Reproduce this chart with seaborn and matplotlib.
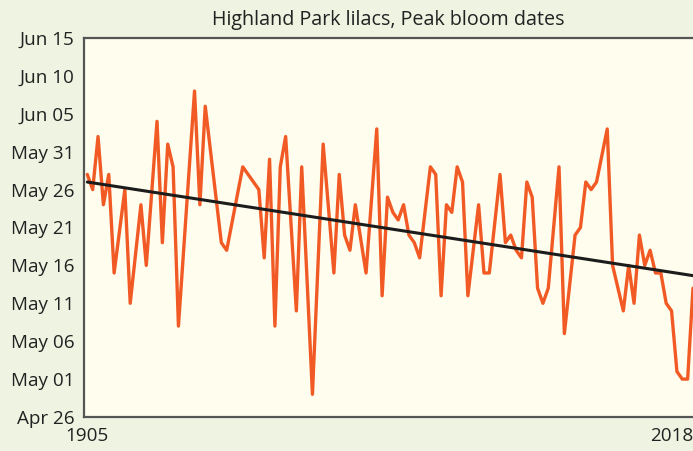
import pandas as pd
import matplotlib
matplotlib.use("Agg")
import matplotlib.pyplot as plt
import seaborn as sns

# Peak bloom dates of the Highland Park lilacs
years = [1905, 1906, 1907, 1908, 1909, 1910, 1912, 1913, 1915, 1916,
         1918, 1919, 1920, 1921, 1922, 1925, 1926, 1927, 1930, 1931,
         1934, 1937, 1938, 1939, 1940, 1941, 1942, 1944, 1945, 1947,
         1949, 1951, 1952, 1953, 1954, 1955, 1957, 1959, 1960, 1961,
         1962, 1963, 1964, 1965, 1966, 1967, 1969, 1970, 1971, 1972,
         1973, 1974, 1975, 1976, 1978, 1979, 1980, 1982, 1983, 1984,
         1985, 1986, 1987, 1988, 1989, 1990, 1991, 1993, 1994, 1996,
         1997, 1998, 1999, 2000, 2002, 2003, 2005, 2006, 2007, 2008,
         2009, 2010, 2011, 2012, 2013, 2014, 2015, 2016, 2017, 2018]
bloom_dates = ["May 28", "May 26", "Jun 02", "May 24", "May 28", "May 15", "May 26", "May 11", "May 24", "May 16",
               "Jun 04", "May 19", "Jun 01", "May 29", "May 08", "Jun 08", "May 24", "Jun 06", "May 19", "May 18",
               "May 29", "May 26", "May 17", "May 30", "May 08", "May 29", "Jun 02", "May 10", "May 29", "Apr 29",
               "Jun 01", "May 15", "May 28", "May 20", "May 18", "May 24", "May 15", "Jun 03", "May 12", "May 25",
               "May 23", "May 22", "May 24", "May 20", "May 19", "May 17", "May 29", "May 28", "May 12", "May 24",
               "May 23", "May 29", "May 27", "May 12", "May 24", "May 15", "May 15", "May 28", "May 19", "May 20",
               "May 18", "May 17", "May 27", "May 25", "May 13", "May 11", "May 13", "May 29", "May 07", "May 20",
               "May 21", "May 27", "May 26", "May 27", "Jun 03", "May 16", "May 10", "May 16", "May 11", "May 20",
               "May 16", "May 18", "May 15", "May 15", "May 11", "May 10", "May 02", "May 01", "May 01", "May 13"]

# Linear trend, endpoints as day of year
trend_years = [1905, 2018]
trend_doy = [147.0, 134.65]

ytick_labels = ["Apr 26", "May 01", "May 06", "May 11", "May 16", "May 21",
                "May 26", "May 31", "Jun 05", "Jun 10", "Jun 15"]
xtick_years = [1905, 2018]
title = "Highland Park lilacs, Peak bloom dates"


def day_of_year(label):
    return pd.to_datetime(label + " 2001", format="%b %d %Y").dayofyear


df = pd.DataFrame({"year": years, "doy": [day_of_year(s) for s in bloom_dates]})
trend = pd.DataFrame({"year": trend_years, "doy": trend_doy})

sns.set_theme(style="white")
plt.rcParams["font.family"] = ["Open Sans", "DejaVu Sans"]

outer_bg = "#eef4e1"
inner_bg = "#fefdee"
line_color = "#f15a24"
axis_color = "#555555"
text_color = "#222222"

W, H = 693, 451
fig = plt.figure(figsize=(W / 100, H / 100), dpi=100, facecolor=outer_bg)
left, right, top, bottom = 84, 693, 38, 417
ax = fig.add_axes([left / W, 1 - bottom / H, (right - left) / W, (bottom - top) / H])
ax.set_facecolor(inner_bg)

sns.lineplot(data=df, x="year", y="doy", color=line_color, linewidth=2.4, ax=ax,
             solid_joinstyle="round")
sns.lineplot(data=trend, x="year", y="doy", color="#1c1c1c", linewidth=2.2, ax=ax)

ax.set_xlim(1904.38, 2018)
ax.set_ylim(day_of_year("Apr 26"), day_of_year("Jun 15"))

ax.set_yticks([day_of_year(s) for s in ytick_labels])
ax.set_yticklabels(ytick_labels)
ax.set_xticks(xtick_years)
ax.set_xticklabels([str(y) for y in xtick_years])
ax.get_xticklabels()[-1].set_horizontalalignment("right")

ax.tick_params(axis="y", direction="in", length=6, width=1.3, color=axis_color,
               pad=7, labelsize=13.6, labelcolor=text_color)
ax.tick_params(axis="x", length=0, pad=7, labelsize=13.6, labelcolor=text_color)
ax.set_xlabel("")
ax.set_ylabel("")

for side in ["left", "bottom", "top"]:
    ax.spines[side].set_visible(True)
    ax.spines[side].set_color(axis_color)
    ax.spines[side].set_linewidth(1.6)
ax.spines["right"].set_visible(False)

ax.set_title(title, fontsize=14.2, color=text_color, pad=9)

fig.savefig("out.png", dpi=100, facecolor=outer_bg)
